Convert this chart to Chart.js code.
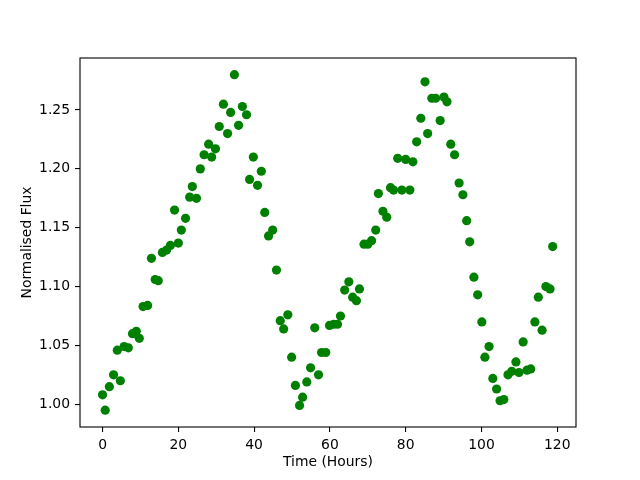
<!DOCTYPE html>
<html lang="en">
<head>
  <meta charset="UTF-8">
  <title>Normalised Flux</title>
  <script src="https://cdn.jsdelivr.net/npm/chart.js"></script>
  <style>
    html, body { margin: 0; padding: 0; background: #fff; }
    #wrap { width: 640px; height: 480px; }
  </style>
</head>
<body>
  <div id="wrap"><canvas id="chart" width="640" height="480"></canvas></div>
  <script>
    // Time (hours) and normalised flux
    const timeHours = [
      0.0, 0.7, 1.8, 2.9, 3.9, 4.7, 5.7, 6.8, 7.9, 8.9,
      9.7, 10.7, 11.9, 12.9, 13.9, 14.7, 15.8, 16.9, 17.9, 19.0,
      20.0, 20.8, 21.9, 23.0, 23.7, 24.8, 25.8, 26.8, 28.0, 28.8,
      29.8, 30.8, 31.9, 33.0, 33.8, 34.8, 35.9, 36.9, 38.0, 38.8,
      39.8, 40.9, 41.9, 42.8, 43.8, 44.9, 45.9, 46.9, 47.8, 48.9,
      49.9, 50.9, 52.0, 52.8, 53.9, 54.9, 56.0, 57.0, 57.8, 58.9,
      59.9, 61.0, 62.0, 62.8, 63.9, 65.0, 66.0, 67.0, 67.8, 69.0,
      70.0, 71.0, 72.1, 72.8, 74.0, 75.0, 76.0, 76.8, 77.9, 79.0,
      80.0, 81.1, 81.9, 82.9, 84.0, 85.1, 85.8, 86.9, 87.9, 89.1,
      90.1, 90.9, 91.9, 92.9, 94.1, 95.1, 96.1, 96.9, 98.0, 99.0,
      100.1, 100.9, 102.0, 103.0, 104.0, 104.9, 105.9, 107.0, 108.0, 109.1,
      109.9, 111.0, 112.0, 113.0, 114.1, 115.0, 116.0, 117.0, 118.1, 118.8
    ];
    const flux = [
      1.008, 0.995, 1.015, 1.025, 1.046, 1.020, 1.049, 1.048, 1.060, 1.062,
      1.056, 1.083, 1.084, 1.124, 1.106, 1.105, 1.129, 1.131, 1.135, 1.165,
      1.137, 1.148, 1.158, 1.176, 1.185, 1.175, 1.200, 1.212, 1.221, 1.210,
      1.217, 1.236, 1.255, 1.230, 1.248, 1.280, 1.237, 1.253, 1.246, 1.191,
      1.210, 1.186, 1.198, 1.163, 1.143, 1.148, 1.114, 1.071, 1.064, 1.076,
      1.040, 1.016, 0.999, 1.006, 1.019, 1.031, 1.065, 1.025, 1.044, 1.044,
      1.067, 1.068, 1.068, 1.075, 1.097, 1.104, 1.091, 1.088, 1.098, 1.136,
      1.136, 1.139, 1.148, 1.179, 1.164, 1.159, 1.184, 1.182, 1.209, 1.182,
      1.208, 1.182, 1.206, 1.223, 1.243, 1.274, 1.230, 1.260, 1.260, 1.241,
      1.261, 1.257, 1.221, 1.212, 1.188, 1.178, 1.156, 1.138, 1.108, 1.093,
      1.070, 1.040, 1.049, 1.022, 1.013, 1.003, 1.004, 1.025, 1.028, 1.036,
      1.027, 1.053, 1.029, 1.030, 1.070, 1.091, 1.063, 1.100, 1.098, 1.134
    ];
    const xTicks = [0, 20, 40, 60, 80, 100, 120];
    const yTicks = [1.00, 1.05, 1.10, 1.15, 1.20, 1.25];

    const font = { family: "'DejaVu Sans', sans-serif", size: 13.9 };

    // matplotlib-style box around the plot area
    const frame = {
      id: 'frame',
      afterDraw(chart) {
        const a = chart.chartArea, c = chart.ctx;
        c.save();
        c.strokeStyle = '#000';
        c.lineWidth = 1.1;
        c.strokeRect(a.left, a.top, a.right - a.left, a.bottom - a.top);
        c.restore();
      }
    };

    new Chart(document.getElementById('chart'), {
      type: 'scatter',
      data: {
        datasets: [{
          data: timeHours.map((t, i) => ({ x: t, y: flux[i] })),
          backgroundColor: '#008000',
          borderColor: '#008000',
          borderWidth: 0,
          pointRadius: 4.6,
          pointHoverRadius: 4.6
        }]
      },
      options: {
        responsive: false,
        animation: false,
        layout: { padding: { left: 19, right: 64, top: 58, bottom: 9 } },
        plugins: { legend: { display: false }, tooltip: { enabled: false } },
        scales: {
          x: {
            type: 'linear',
            min: -5.95,
            max: 124.95,
            afterBuildTicks: s => { s.ticks = xTicks.map(v => ({ value: v })); },
            afterFit: s => { s.height = 44; },
            grid: { drawOnChartArea: false, drawTicks: true, tickLength: 5, color: '#000', lineWidth: 1.1 },
            border: { display: false },
            ticks: { color: '#000', font, padding: 5, maxRotation: 0 },
            title: { display: true, text: 'Time (Hours)', color: '#000', font, padding: 0 }
          },
          y: {
            type: 'linear',
            min: 0.9807,
            max: 1.2942,
            afterBuildTicks: s => { s.ticks = yTicks.map(v => ({ value: v })); },
            afterFit: s => { s.width = 61; },
            grid: { drawOnChartArea: false, drawTicks: true, tickLength: 5, color: '#000', lineWidth: 1.1 },
            border: { display: false },
            ticks: { color: '#000', font, padding: 5, callback: v => Number(v).toFixed(2) },
            title: { display: true, text: 'Normalised Flux', color: '#000', font, padding: 0 }
          }
        }
      },
      plugins: [frame]
    });
  </script>
</body>
</html>
